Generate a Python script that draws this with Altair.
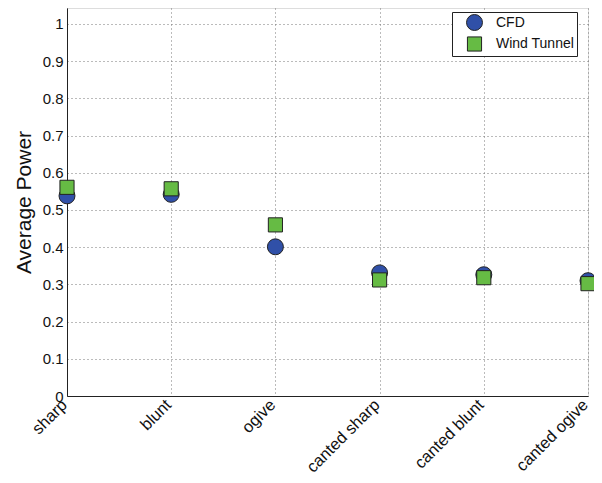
import altair as alt
import pandas as pd

categories = ["sharp", "blunt", "ogive", "canted sharp", "canted blunt", "canted ogive"]
cfd = [0.538, 0.542, 0.401, 0.331, 0.326, 0.310]
wind_tunnel = [0.561, 0.557, 0.460, 0.312, 0.318, 0.302]
series_names = ["CFD", "Wind Tunnel"]
y_ticks = [0, 0.1, 0.2, 0.3, 0.4, 0.5, 0.6, 0.7, 0.8, 0.9, 1.0]

rows = []
for c, v in zip(categories, cfd):
    rows.append({"shape_name": c, "series": "CFD", "power": v})
for c, v in zip(categories, wind_tunnel):
    rows.append({"shape_name": c, "series": "Wind Tunnel", "power": v})
df = pd.DataFrame(rows)
df["order"] = df["series"].map({"CFD": 0, "Wind Tunnel": 1})

chart = alt.Chart(df).mark_point(
    filled=True, opacity=1, stroke="#222222", strokeWidth=1
).encode(
    x=alt.X("shape_name:N", sort=categories, title=None,
            scale=alt.Scale(padding=0),
            axis=alt.Axis(labelAngle=-45, labelAlign="right", labelBaseline="middle",
                          labelFontSize=16.5, labelPadding=6, labelOffset=-3, grid=True, ticks=False,
                          gridDash=[1, 3], gridColor="#777777", domainColor="#222222",
                          labelColor="#111111")),
    y=alt.Y("power:Q", title="Average Power",
            scale=alt.Scale(domain=[0, 1.043], nice=False, zero=True),
            axis=alt.Axis(values=y_ticks, format="~g", labelFontSize=15, ticks=False,
                          labelPadding=4,
                          titleFontSize=21, titleFontWeight="normal", titlePadding=8,
                          grid=True, gridDash=[1, 3], gridColor="#777777",
                          domainColor="#222222",
                          labelColor="#111111", titleColor="#111111")),
    color=alt.Color("series:N", scale=alt.Scale(domain=series_names, range=["#3050a8", "#66bb44"]),
                    legend=alt.Legend(title=None, orient="none", legendX=385, legendY=4,
                                      labelFontSize=14, symbolSize=210, strokeColor="#222222",
                                      fillColor="white", padding=2, rowPadding=1,
                                      symbolOffset=12, labelOffset=13, labelLimit=200,
                                      symbolStrokeColor="#222222", symbolStrokeWidth=1,
                                      labelColor="#111111")),
    shape=alt.Shape("series:N", scale=alt.Scale(domain=series_names, range=["circle", "square"])),
    size=alt.Size("series:N", scale=alt.Scale(domain=series_names, range=[255, 200]), legend=None),
    order=alt.Order("order:Q"),
).properties(
    width=521, height=388,
    autosize=alt.AutoSizeParams(type="none"),
    padding={"left": 59, "top": 0, "right": 6, "bottom": 79},
).configure_view(stroke=None).configure(font="Liberation Sans")

chart.save("out.html", embed_options={"renderer": "svg", "actions": False})
